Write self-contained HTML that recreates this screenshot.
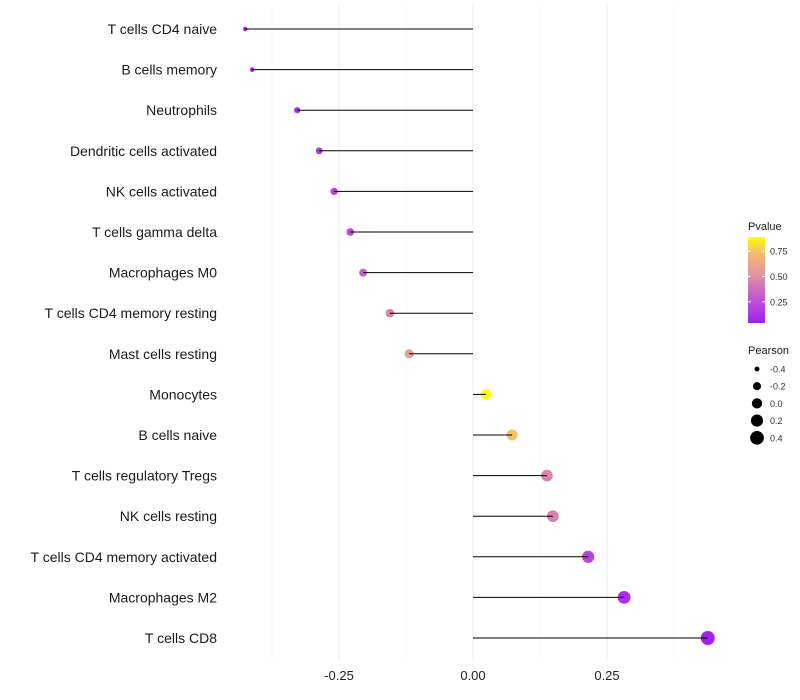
<!DOCTYPE html>
<html><head><meta charset="utf-8"><style>
body{margin:0;background:#fff;font-family:"Liberation Sans",sans-serif;}
</style></head><body>
<svg id="chart" width="800" height="700" style="position:absolute;left:0;top:0"></svg>
<script>
const categories=["T cells CD4 naive","B cells memory","Neutrophils","Dendritic cells activated","NK cells activated","T cells gamma delta","Macrophages M0","T cells CD4 memory resting","Mast cells resting","Monocytes","B cells naive","T cells regulatory  Tregs ","NK cells resting","T cells CD4 memory activated","Macrophages M2","T cells CD8"];
const pearson=[-0.425,-0.412,-0.328,-0.287,-0.259,-0.229,-0.205,-0.155,-0.119,0.024,0.073,0.138,0.149,0.215,0.282,0.438];
const pvalue=[0.04,0.06,0.12,0.16,0.2,0.26,0.32,0.45,0.58,0.89,0.74,0.46,0.44,0.2,0.1,0.05];
const xTicks=[-0.25,0,0.25];
const xTickLabels=["-0.25","0.00","0.25"];
const xMinor=[-0.375,-0.125,0.125,0.375];
const pTicks=[0.25,0.5,0.75];
const pTickLabels=["0.25","0.50","0.75"];
const sizeLegend=[-0.4,-0.2,0,0.2,0.4];
const sizeLegendLabels=["-0.4","-0.2","0.0","0.2","0.4"];

const svg=document.getElementById('chart');
const NS="http://www.w3.org/2000/svg";
function mk(t,a,p){const e=document.createElementNS(NS,t);for(const k in a)e.setAttribute(k,a[k]);(p||svg).appendChild(e);return e;}
const x=v=>473+v*536;
const y=i=>29+i*40.6;
const pMin=0.04,pMax=0.89;
function lerp(a,b,t){return a+(b-a)*t;}
const stops=[[0,[160,32,240]],[0.35,[200,100,200]],[0.55,[225,145,160]],[0.72,[238,170,130]],[0.85,[245,200,95]],[1,[255,255,0]]];
function col(p){let t=Math.max(0,Math.min(1,(p-pMin)/(pMax-pMin)));
 for(let k=0;k<stops.length-1;k++){const [o1,a]=stops[k],[o2,b]=stops[k+1];
  if(t<=o2){const u=(t-o1)/(o2-o1);return `rgb(${Math.round(lerp(a[0],b[0],u))},${Math.round(lerp(a[1],b[1],u))},${Math.round(lerp(a[2],b[2],u))})`;}}
 return 'rgb(255,255,0)';}
const r=v=>Math.sqrt(Math.max(1,4.84+(v+0.425)*51.2));

xMinor.forEach(v=>{const l=mk('line',{x1:x(v),x2:x(v),y1:5,y2:660,stroke:'#f5f5f5','stroke-width':0.6});
});
xTicks.forEach((v,i)=>{const l=mk('line',{x1:x(v),x2:x(v),y1:5,y2:660,stroke:'#ebebeb','stroke-width':1});

const t=mk('text',{x:x(v),y:680,'text-anchor':'middle','font-size':13,fill:'#222'});t.textContent=xTickLabels[i];
});

categories.forEach((c,i)=>{
 const t=mk('text',{x:217,y:y(i)+5,'text-anchor':'end','font-size':14,fill:'#1a1a1a'});t.textContent=c;
 
 const d=mk('circle',{cx:x(pearson[i]),cy:y(i),r:r(pearson[i]),fill:col(pvalue[i])});
 
 const l=mk('line',{x1:x(0),x2:x(pearson[i]),y1:y(i),y2:y(i),stroke:'#000','stroke-width':1});
 
});

// Pvalue legend
const lg=mk('text',{x:748,y:230,'font-size':11,fill:'#1a1a1a'});lg.textContent='Pvalue';

const defs=mk('defs',{});const g=mk('linearGradient',{id:'pg',x1:0,y1:1,x2:0,y2:0},defs);
[0,0.2,0.35,0.55,0.72,0.85,1].forEach(o=>mk('stop',{offset:o,'stop-color':col(pMin+o*(pMax-pMin))},g));
const bar=mk('rect',{x:748,y:237,width:17,height:86,fill:'url(#pg)'});

const py=p=>323-(p-pMin)/(pMax-pMin)*86;
pTicks.forEach((p,i)=>{mk('line',{x1:748,x2:751,y1:py(p),y2:py(p),stroke:'#fff'});mk('line',{x1:762,x2:765,y1:py(p),y2:py(p),stroke:'#fff'});
 const t=mk('text',{x:770,y:py(p)+3.5,'font-size':9,fill:'#333'});t.textContent=pTickLabels[i];
 });

// Pearson legend
const sl=mk('text',{x:748,y:354,'font-size':11,fill:'#1a1a1a'});sl.textContent='Pearson';

sizeLegend.forEach((v,i)=>{const cy=369+i*17.2;
 const c=mk('circle',{cx:757,cy:cy,r:r(v),fill:'#000'});
 const t=mk('text',{x:770,y:cy+3.5,'font-size':9,fill:'#333'});t.textContent=sizeLegendLabels[i];
 });
</script>
</body></html>
